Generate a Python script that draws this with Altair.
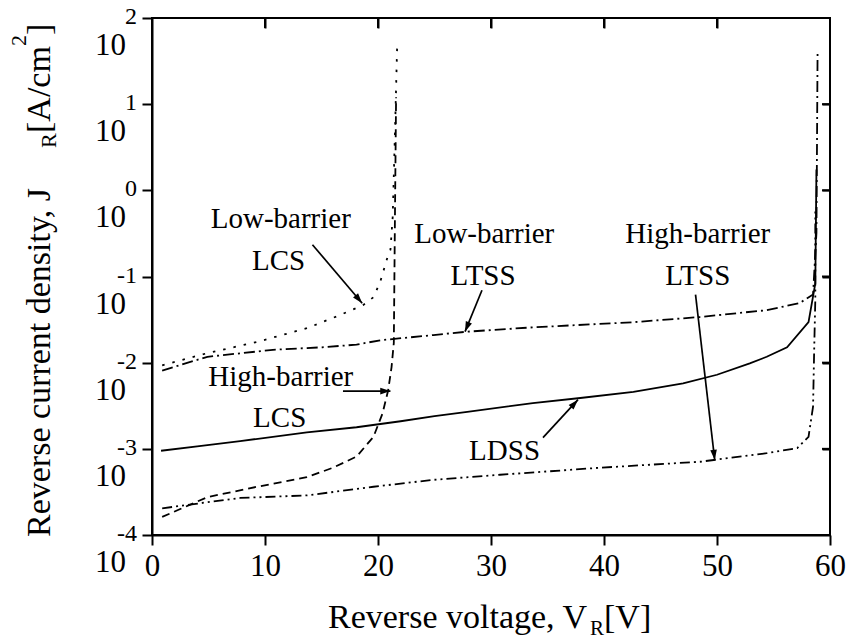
import math
import altair as alt
import pandas as pd

FONT = "Liberation Serif"

# ---- curves: reverse voltage [V] and current density [A/cm^2] ----
V_ldss = [0.8, 4.0, 7.8, 13.7, 18.1, 22.0, 25.0, 27.9, 33.7, 37.9, 42.6, 47.0, 50.0, 52.9, 54.4, 56.2, 58.1, 58.7, 58.8]
J_ldss = [9.5e-4, 1.07e-3, 1.23e-3, 1.55e-3, 1.78e-3, 2.09e-3, 2.40e-3, 2.69e-3, 3.39e-3, 3.89e-3, 4.57e-3,
          5.75e-3, 7.24e-3, 9.8e-3, 1.17e-2, 1.51e-2, 2.95e-2, 8.3e-2, 1.74]

V_hb_lcs = [0.9, 4.9, 9.3, 13.7, 16.0, 18.1, 19.6, 20.4, 20.9, 21.2, 21.4, 21.5, 21.6]
J_hb_lcs = [1.62e-4, 2.75e-4, 3.63e-4, 4.68e-4, 6.03e-4, 8.13e-4, 1.38e-3, 2.57e-3, 4.79e-3, 8.9e-3, 1.70e-2, 0.5, 12.0]

V_lb_lcs = [0.9, 4.9, 9.3, 13.7, 16.6, 18.7, 19.6, 20.2, 20.9, 21.1, 21.3, 21.5, 21.7]
J_lb_lcs = [9.3e-3, 1.29e-2, 1.74e-2, 2.51e-2, 3.55e-2, 4.68e-2, 5.75e-2, 8.7e-2, 0.178, 0.204, 0.49, 4.57, 51.0]

V_lb_ltss = [0.9, 4.9, 10.7, 15.1, 18.1, 20.2, 24.9, 27.9, 33.7, 42.6, 48.5, 54.4, 57.3, 58.5, 58.8, 58.9]
J_lb_ltss = [8.1e-3, 1.17e-2, 1.41e-2, 1.51e-2, 1.62e-2, 1.82e-2, 2.09e-2, 2.29e-2, 2.57e-2, 2.95e-2, 3.39e-2,
             4.07e-2, 4.9e-2, 6.2e-2, 0.32, 39.0]

V_hb_ltss = [0.9, 4.9, 7.8, 13.7, 19.6, 24.9, 30.8, 39.6, 48.5, 54.4, 57.1, 58.1, 58.5, 58.6, 58.7, 58.7]
J_hb_ltss = [2.04e-4, 2.40e-4, 2.69e-4, 2.88e-4, 3.63e-4, 4.37e-4, 5.0e-4, 6.03e-4, 7.08e-4, 8.9e-4, 1.02e-3,
             1.38e-3, 3.09e-3, 1.41e-2, 5.4e-2, 0.63]

# ---- ticks ----
x_ticks = [0, 10, 20, 30, 40, 50, 60]
y_ticks = [1e2, 1e1, 1e0, 1e-1, 1e-2, 1e-3, 1e-4]
y_exps = ["2", "1", "0", "-1", "-2", "-3", "-4"]

# ---- annotations ----
ann_text = ["Low-barrier", "LCS", "Low-barrier", "LTSS", "High-barrier", "LTSS", "High-barrier", "LCS", "LDSS"]
ann_v = [11.4, 11.2, 29.4, 29.3, 48.3, 48.3, 11.4, 11.3, 31.2]
ann_j = [0.363, 0.120, 0.245, 0.0794, 0.245, 0.0794, 5.37e-3, 1.78e-3, 7.41e-4]

arr_v1 = [14.2, 29.2, 48.1, 16.9, 34.6]
arr_j1 = [0.234, 0.0692, 0.0617, 4.68e-3, 1.35e-3]
arr_v2 = [18.6, 27.7, 49.8, 21.1, 37.7]
arr_j2 = [0.049, 0.0229, 7.41e-4, 4.68e-3, 3.72e-3]

W, H = 678, 517
xs = alt.Scale(domain=[0, 60], nice=False, zero=False)
ys = alt.Scale(type="log", domain=[1e-4, 1e2], nice=False)
XA = alt.Axis(orient="bottom", values=x_ticks, title=None, tickSize=10, tickWidth=2, tickColor="black",
              domainColor="black", domainWidth=2, labelFont=FONT, labelFontSize=31,
              labelColor="black", labelPadding=6, grid=False, labelFlush=False,
              labelOverlap=False)
YA = alt.Axis(orient="left", values=y_ticks, title=None, tickSize=10, tickWidth=2, tickColor="black",
              domainColor="black", domainWidth=2, labels=False, grid=False)
# inward ticks on the top and right frame edges
XT = alt.Axis(orient="top", offset=-10, values=x_ticks[1:-1], title=None, tickSize=10, tickWidth=2,
              tickColor="black", domain=False, labels=False, grid=False)
YR = alt.Axis(orient="right", offset=-8, values=y_ticks[1:-1], title=None, tickSize=8, tickWidth=2,
              tickColor="black", domain=False, labels=False, grid=False)


def X(field, axis=None):
    return alt.X(field, scale=xs, axis=axis)


def Y(field, axis=None):
    return alt.Y(field, scale=ys, axis=axis)


def curve(v, j, dash=None, axes=False):
    kw = dict(color="black", strokeWidth=1.8, clip=True)
    if dash:
        kw["strokeDash"] = dash
    df = pd.DataFrame({"V": v, "J": j, "i": list(range(len(v)))})
    return alt.Chart(df).mark_line(**kw).encode(
        x=X("V:Q", XA if axes else None), y=Y("J:Q", YA if axes else None), order="i:Q")


layers = [
    curve(V_ldss, J_ldss, None, axes=True),
    curve(V_hb_lcs, J_hb_lcs, [8, 5]),
    curve(V_lb_lcs, J_lb_lcs, [2.5, 8]),
    curve(V_lb_ltss, J_lb_ltss, [11, 4, 2, 4]),
    curve(V_hb_ltss, J_hb_ltss, [10, 4, 2, 4, 2, 4]),
]

top_df = pd.DataFrame({"V": x_ticks[1:-1]})
layers.append(alt.Chart(top_df).mark_tick(color="black", thickness=2, size=10, orient="vertical",
                                          opacity=1).encode(
    x=X("V:Q", XT), y=alt.value(5)))
right_df = pd.DataFrame({"J": y_ticks[1:-1]})
layers.append(alt.Chart(right_df).mark_tick(color="black", thickness=2, size=8, orient="horizontal",
                                            opacity=1).encode(
    y=Y("J:Q", YR), x=alt.value(W - 4)))

# y tick labels: "10" with superscript exponent
ylab = pd.DataFrame({"J": y_ticks, "e": y_exps})
layers.append(alt.Chart(ylab).mark_text(font=FONT, fontSize=31, align="right", baseline="alphabetic",
                                        dy=37, color="black").encode(
    y=Y("J:Q"), x=alt.value(-26), text=alt.value("10")))
layers.append(alt.Chart(ylab).mark_text(font=FONT, fontSize=24, align="right", baseline="middle",
                                        dy=-1, color="black").encode(
    y=Y("J:Q"), x=alt.value(-15), text="e:N"))

# annotations
ann = pd.DataFrame({"t": ann_text, "V": ann_v, "J": ann_j})
layers.append(alt.Chart(ann).mark_text(font=FONT, fontSize=29, align="center", baseline="alphabetic",
                                       color="black").encode(
    x=X("V:Q"), y=Y("J:Q"), text="t:N"))

angs = []
for a, b, c, d in zip(arr_v1, arr_j1, arr_v2, arr_j2):
    dx = (c - a) * W / 60.0
    dy = -(math.log10(d) - math.log10(b)) * H / 6.0
    angs.append(math.degrees(math.atan2(dx, -dy)) % 360)
arr = pd.DataFrame({"V1": arr_v1, "J1": arr_j1, "V2": arr_v2, "J2": arr_j2, "ang": angs})
layers.append(alt.Chart(arr).mark_rule(color="black", strokeWidth=1.7).encode(
    x=X("V1:Q"), y=Y("J1:Q"), x2="V2:Q", y2="J2:Q"))
layers.append(alt.Chart(arr).mark_point(shape="M0,0L-0.55,1.7L0.55,1.7Z", filled=True, size=144,
                                        color="black", opacity=1).encode(
    x=X("V2:Q"), y=Y("J2:Q"), angle=alt.Angle("ang:Q", scale=None)))

# axis titles with sub/superscripts
one = pd.DataFrame({"a": [0]})


def label(text, x, y, size, angle=None, align="left", baseline="alphabetic"):
    kw = dict(text=text, font=FONT, fontSize=size, align=align, baseline=baseline, color="black")
    if angle is not None:
        kw["angle"] = angle
    return alt.Chart(one).mark_text(**kw).encode(x=alt.value(x), y=alt.value(y))


layers += [
    label("Reverse voltage, V", 176, 610, 34),
    label("R", 438, 617, 21),
    label("[V]", 452, 610, 34),
    label("Reverse current density, J", -102, 519, 34, angle=270),
    label("R", -96, 130, 22, angle=270),
    label("[A/cm", -102, 115, 34, angle=270),
    label("2", -126, 28, 22, angle=270),
    label("]", -102, 17, 34, angle=270),
]

chart = alt.layer(*layers).resolve_axis(x="independent", y="independent").properties(
    width=W, height=H,
    autosize=alt.AutoSizeParams(type="none"),
    padding={"left": 152, "top": 18, "right": 22, "bottom": 105},
    background="white",
).configure_view(stroke="black", strokeWidth=2)

chart.save("out.html", embed_options={"renderer": "svg", "actions": False})
